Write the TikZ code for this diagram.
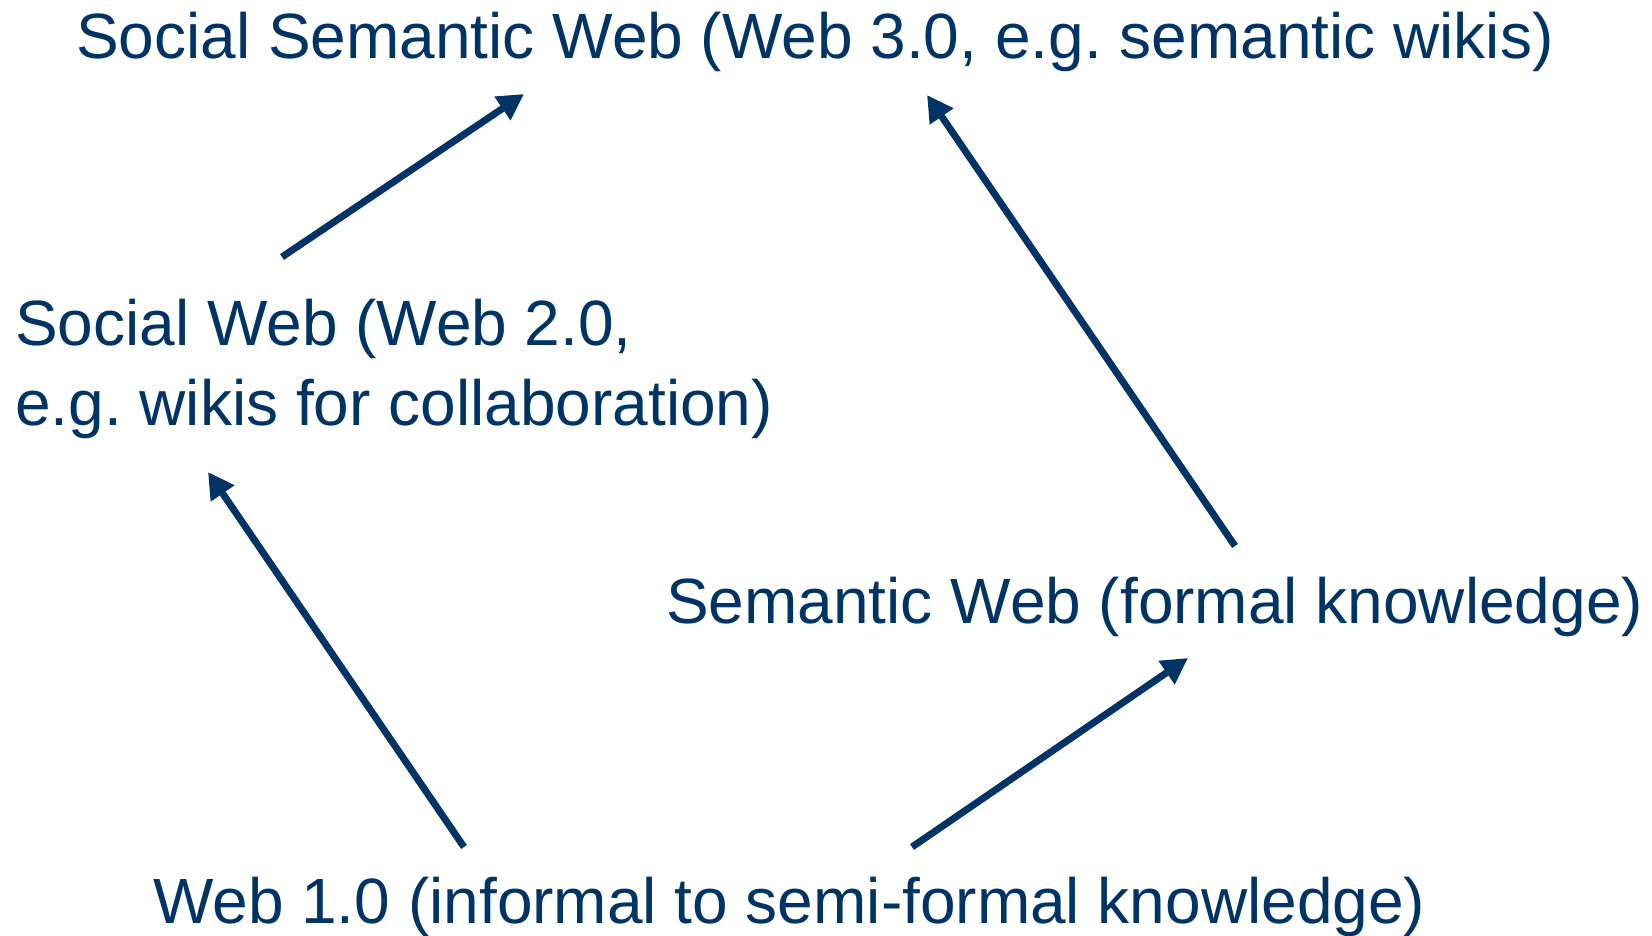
\documentclass[tikz,border=0pt]{standalone}
\usepackage{fontspec}
\setmainfont{Liberation Sans}
\usetikzlibrary{arrows.meta}
\definecolor{navy}{RGB}{0,51,102}
\frenchspacing
\begin{document}
\begin{tikzpicture}[x=1pt,y=1pt,
  lbl/.style={anchor=base west,inner sep=0pt,text=navy,font=\fontsize{64}{80}\selectfont,align=left},
  arr/.style={draw=navy,line width=7pt,-{Triangle[length=26pt,width=27pt]}}]
\useasboundingbox (0,0) rectangle (1652,-935);
\node[lbl] (s3) at (76,-58) {Social Semantic Web (Web 3.0, e.g. semantic wikis)};
\node[lbl] (s2) at (15,-345) {Social Web (Web 2.0,};
\node[lbl] (s2b) at (15,-425) {e.g. wikis for collaboration)};
\node[lbl] (sw) at (666,-623) {Semantic Web (formal knowledge)};
\node[lbl] (w1) at (153,-923) {Web 1.0 (informal to semi-formal knowledge)};
\coordinate (a1s) at (282,-257); \coordinate (a1e) at (524,-94);
\coordinate (a2s) at (1235,-546); \coordinate (a2e) at (927,-95);
\coordinate (a3s) at (464,-847); \coordinate (a3e) at (208,-472);
\coordinate (a4s) at (912,-847); \coordinate (a4e) at (1188,-658);
\draw[arr] (a1s) -- (a1e);
\draw[arr] (a2s) -- (a2e);
\draw[arr] (a3s) -- (a3e);
\draw[arr] (a4s) -- (a4e);
\end{tikzpicture}
\end{document}
